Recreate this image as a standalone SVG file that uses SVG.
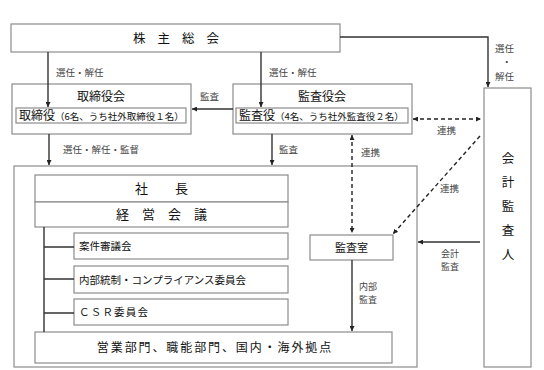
<svg xmlns="http://www.w3.org/2000/svg" width="544" height="370" viewBox="0 0 544 370">
<style>
.box{fill:#fff;stroke:#8c8c8c;stroke-width:1.2}
.ln{fill:none;stroke:#333;stroke-width:1.4}
.dash{fill:none;stroke:#222;stroke-width:1.4;stroke-dasharray:4 3}
.t{font-family:"Noto Sans CJK JP","Noto Sans",sans-serif;fill:#111}
.lb{font-family:"Noto Sans CJK JP","Noto Sans",sans-serif;fill:#444;font-size:9.5px}
.sm{font-size:9px}
</style>
<defs>
<marker id="ar" viewBox="0 0 6 6" refX="6" refY="3" markerWidth="5" markerHeight="5" orient="auto-start-reverse" markerUnits="userSpaceOnUse">
<path d="M0,0 L6,3 L0,6 z" fill="#222"/>
</marker>
</defs>
<rect width="544" height="370" fill="#fff"/>

<g id="kaikei">
<rect class="box" x="484" y="88" width="47" height="279"/>
<text class="t" font-size="12.5" text-anchor="middle" x="508"><tspan x="508" y="163">会</tspan><tspan x="508" y="187">計</tspan><tspan x="508" y="211">監</tspan><tspan x="508" y="235">査</tspan><tspan x="508" y="259">人</tspan></text>
</g>

<g id="main">
<rect class="box" x="14" y="166" width="403" height="201"/>
</g>

<g id="kabunushi">
<rect class="box" x="11" y="24" width="329" height="28"/>
<text class="t" font-size="12.5" text-anchor="middle" x="182" y="42.5" letter-spacing="12">株主総会</text>
</g>

<g id="torishimariyakukai">
<rect class="box" x="12" y="84" width="179" height="50"/>
<text class="t" font-size="12" text-anchor="middle" x="101" y="101">取締役会</text>
<rect class="box" x="16" y="108" width="170" height="15"/>
<text class="t" x="19" y="120" font-size="12">取締役<tspan font-size="9.5">（6名、うち社外取締役１名）</tspan></text>
</g>

<g id="kansayakukai">
<rect class="box" x="233" y="84" width="179" height="50"/>
<text class="t" font-size="12" text-anchor="middle" x="322" y="101">監査役会</text>
<rect class="box" x="236" y="108" width="172" height="15"/>
<text class="t" x="239" y="120" font-size="12">監査役<tspan font-size="9.5">（4名、うち社外監査役２名）</tspan></text>
</g>

<g id="shacho">
<rect class="box" x="35" y="175" width="253" height="27"/>
<text class="t" font-size="13" text-anchor="middle" x="175" y="193" letter-spacing="27">社長</text>
</g>
<g id="keiei">
<rect class="box" x="35" y="202" width="253" height="25"/>
<text class="t" font-size="13" text-anchor="middle" x="168" y="219" letter-spacing="13">経営会議</text>
</g>
<g id="anken">
<rect class="box" x="74" y="233" width="214" height="26"/>
<text class="t" font-size="10.5" x="79" y="250">案件審議会</text>
</g>
<g id="naibu">
<rect class="box" x="74" y="266" width="214" height="27"/>
<text class="t" font-size="10.5" x="79" y="283.5">内部統制・コンプライアンス委員会</text>
</g>
<g id="csr">
<rect class="box" x="74" y="299" width="214" height="26"/>
<text class="t" font-size="10.5" x="79" y="316" letter-spacing="1.2">ＣＳＲ委員会</text>
</g>
<g id="eigyo">
<rect class="box" x="35" y="332" width="357" height="31"/>
<text class="t" font-size="12" text-anchor="middle" x="215" y="352" letter-spacing="1.9">営業部門、職能部門、国内・海外拠点</text>
</g>
<g id="kansashitsu">
<rect class="box" x="310" y="235" width="83" height="25"/>
<text class="t" font-size="11" text-anchor="middle" x="351.5" y="251.5">監査室</text>
</g>

<g id="connectors">
<path class="ln" d="M48,52 V107" marker-end="url(#ar)"/>
<path class="ln" d="M261,52 V107" marker-end="url(#ar)"/>
<path class="ln" d="M340,37 H488 V87" marker-end="url(#ar)"/>
<path class="ln" d="M233,109 H192" marker-end="url(#ar)"/>
<path class="ln" d="M49,134 V165" marker-end="url(#ar)"/>
<path class="ln" d="M272,134 V165" marker-end="url(#ar)"/>
<path class="dash" d="M413,119 H481" marker-start="url(#ar)" marker-end="url(#ar)"/>
<path class="dash" d="M352,135 V233" marker-start="url(#ar)" marker-end="url(#ar)"/>
<path class="dash" d="M480,136 L393,234" marker-end="url(#ar)"/>
<path class="ln" d="M480,242 H418" marker-end="url(#ar)"/>
<path class="ln" d="M352,260 V331" marker-end="url(#ar)"/>
<path class="ln" d="M44,227 V332 M44,247 H74 M44,279 H74 M44,313 H74"/>
</g>

<g id="labels">
<text class="lb" x="56" y="76">選任・解任</text>
<text class="lb" x="269" y="76">選任・解任</text>
<text class="lb" x="495" y="52">選任</text>
<text class="lb" x="502" y="65">・</text>
<text class="lb" x="495" y="80">解任</text>
<text class="lb" x="200" y="100">監査</text>
<text class="lb" x="63" y="153">選任・解任・監督</text>
<text class="lb" x="279" y="153">監査</text>
<text class="lb" x="361" y="156">連携</text>
<text class="lb" x="437" y="134">連携</text>
<text class="lb" x="440" y="192">連携</text>
<text class="lb sm" x="441" y="257">会計</text>
<text class="lb sm" x="441" y="270">監査</text>
<text class="lb sm" x="359" y="290">内部</text>
<text class="lb sm" x="359" y="303">監査</text>
</g>
</svg>
